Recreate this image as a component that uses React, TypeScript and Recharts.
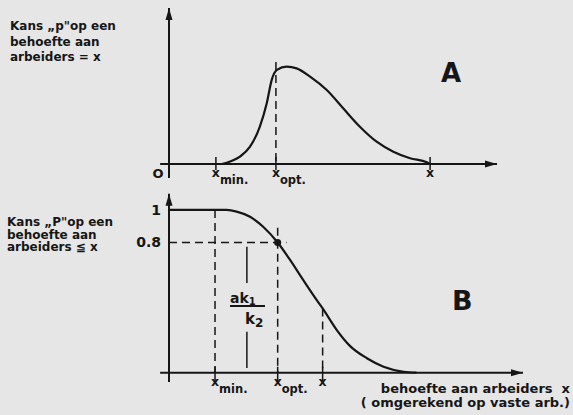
import { LineChart, Line, XAxis, YAxis, ReferenceLine, ReferenceDot } from 'recharts';

const INK = '#161616';
const FONT = '"DejaVu Sans", Arial, sans-serif';

// figuur A: kans p op een behoefte aan arbeiders = x
const xA = [16.1, 17.6, 21.6, 24.7, 27.7, 29.8, 31.3, 32.9, 35.9, 38.9, 43.0, 48.1, 53.1, 58.2, 63.3, 68.4, 73.5, 78.6, 79.6];
const pA = [0, 0.8, 4.7, 11.1, 23.9, 38.9, 53.8, 60.3, 62.4, 61.3, 56.0, 47.4, 35.7, 23.9, 14.3, 7.9, 3.7, 1.1, 0];
const ticksA = [0, 14.3, 32.6, 79.6];
const subsA = ['', 'min.', 'opt.', ''];
const optTopA = 65.4;

// figuur B: kans P op een behoefte aan arbeiders <= x
const xB = [0, 16.3, 19.1, 22.9, 26.6, 30.7, 34.2, 37.9, 41.7, 43.4, 47.4, 51.1, 55.9, 60.6, 66.3, 69.9];
const pB = [1, 1, 0.99, 0.958, 0.897, 0.8, 0.693, 0.57, 0.447, 0.395, 0.262, 0.165, 0.089, 0.037, 0.006, 0];
const ticksB = [13.0, 30.7, 43.4];
const subsB = ['min.', 'opt.', ''];
const levelsB = [0.8, 1];
const optTopB = 0.89;
const ak1k2X = 22.0;

const dataA = xA.map((x, i) => ({ x, p: pA[i] }));
const dataB = xB.map((x, i) => ({ x, p: pB[i] }));

const ArrowLine = (props: any) => {
  const { x1, y1, x2, y2 } = props;
  const a = Math.atan2(y2 - y1, x2 - x1);
  const len = 12;
  const w = 3.5;
  const bx = x2 - len * Math.cos(a);
  const by = y2 - len * Math.sin(a);
  const pts = `${x2},${y2} ${bx + w * Math.sin(a)},${by - w * Math.cos(a)} ${bx - w * Math.sin(a)},${by + w * Math.cos(a)}`;
  return (
    <g>
      <line x1={x1} y1={y1} x2={x2} y2={y2} stroke={INK} strokeWidth={2} />
      <polygon points={pts} fill={INK} />
    </g>
  );
};

const makeTick = (values: number[], subs: string[], up: number, down: number) => (props: any) => {
  const { x, y, payload } = props;
  const i = values.indexOf(payload.value);
  if (payload.value === 0) {
    return (
      <text x={x - 11} y={y + 14} textAnchor="middle" fontSize={13} fontWeight="bold" fill={INK} fontFamily={FONT}>
        O
      </text>
    );
  }
  const sub = subs[i];
  return (
    <g>
      <line x1={x} x2={x} y1={y - up} y2={y + down} stroke={INK} strokeWidth={1.5} />
      <text x={x} y={y + 13} textAnchor="middle" fontSize={12.5} fontWeight="bold" fill={INK} fontFamily={FONT}>
        x
      </text>
      {sub && (
        <text x={x + 4} y={y + 20} fontSize={11.5} fontWeight="bold" fill={INK} fontFamily={FONT}>
          {sub}
        </text>
      )}
    </g>
  );
};

const txt = { position: 'absolute' as const, fontFamily: FONT, fontWeight: 700, color: INK, whiteSpace: 'pre' as const };

export default function App() {
  return (
    <div style={{ position: 'absolute', left: 0, top: 0, width: 573, height: 415, background: '#e6e6e6', overflow: 'hidden' }}>
      <div style={{ position: 'absolute', left: 0, top: 0 }}>
        <LineChart width={573} height={200} data={dataA} margin={{ top: 8, right: 76, left: 169, bottom: 6 }}>
          <XAxis
            dataKey="x"
            type="number"
            domain={[0, 100]}
            ticks={ticksA}
            interval={0}
            axisLine={false}
            tickLine={false}
            tickSize={0}
            tickMargin={0}
            height={30}
            tick={makeTick(ticksA, subsA, 7, 6)}
          />
          <YAxis hide type="number" domain={[0, 100]} />
          <ReferenceLine segment={[{ x: 0, y: -9 }, { x: 0, y: 100 }]} ifOverflow="visible" shape={ArrowLine} />
          <ReferenceLine segment={[{ x: -2.7, y: 0 }, { x: 100, y: 0 }]} ifOverflow="visible" shape={ArrowLine} />
          <ReferenceLine
            segment={[{ x: ticksA[2], y: optTopA }, { x: ticksA[2], y: 0 }]}
            ifOverflow="visible"
            stroke={INK}
            strokeWidth={1.5}
            strokeDasharray="8 5"
          />
          <Line type="monotone" dataKey="p" stroke={INK} strokeWidth={2.2} dot={false} isAnimationActive={false} />
        </LineChart>
      </div>

      <div style={{ position: 'absolute', left: 0, top: 185 }}>
        <LineChart width={573} height={230} data={dataB} margin={{ top: 8.7, right: 50, left: 129, bottom: 12.3 }}>
          <XAxis
            dataKey="x"
            type="number"
            domain={[0, 100]}
            ticks={ticksB}
            interval={0}
            axisLine={false}
            tickLine={false}
            tickSize={0}
            tickMargin={0}
            height={30}
            tick={makeTick(ticksB, subsB, 6, 9)}
          />
          <YAxis
            type="number"
            domain={[0, 1.1]}
            ticks={levelsB}
            interval={0}
            width={40}
            axisLine={false}
            tickLine={false}
            tickSize={0}
            tickMargin={8}
            tick={{ fill: INK, fontSize: 14, fontWeight: 'bold', fontFamily: FONT }}
          />
          <ReferenceLine segment={[{ x: 0, y: -0.057 }, { x: 0, y: 1.1 }]} ifOverflow="visible" shape={ArrowLine} />
          <ReferenceLine segment={[{ x: -2.5, y: 0 }, { x: 100, y: 0 }]} ifOverflow="visible" shape={ArrowLine} />
          <ReferenceLine segment={[{ x: 0, y: 0.8 }, { x: 33.2, y: 0.8 }]} ifOverflow="visible" stroke={INK} strokeWidth={1.5} strokeDasharray="8 5" />
          <ReferenceLine segment={[{ x: ticksB[0], y: 1 }, { x: ticksB[0], y: 0 }]} ifOverflow="visible" stroke={INK} strokeWidth={1.5} strokeDasharray="8 5" />
          <ReferenceLine segment={[{ x: ticksB[1], y: optTopB }, { x: ticksB[1], y: 0 }]} ifOverflow="visible" stroke={INK} strokeWidth={1.5} strokeDasharray="8 5" />
          <ReferenceLine segment={[{ x: ticksB[2], y: pB[9] }, { x: ticksB[2], y: 0 }]} ifOverflow="visible" stroke={INK} strokeWidth={1.5} strokeDasharray="8 5" />
          <ReferenceLine segment={[{ x: ak1k2X, y: 0.774 }, { x: ak1k2X, y: 0.551 }]} ifOverflow="visible" stroke={INK} strokeWidth={1.5} />
          <ReferenceLine segment={[{ x: ak1k2X, y: 0.252 }, { x: ak1k2X, y: 0.029 }]} ifOverflow="visible" stroke={INK} strokeWidth={1.5} />
          <Line type="monotone" dataKey="p" stroke={INK} strokeWidth={2.2} dot={false} isAnimationActive={false} />
          <ReferenceDot x={ticksB[1]} y={0.8} r={3.5} fill={INK} stroke="none" ifOverflow="visible" />
        </LineChart>
      </div>

      <div style={{ ...txt, left: 10, top: 19, fontSize: 12, lineHeight: '15.5px' }}>
        {'Kans „p"op een\nbehoefte aan\narbeiders = x'}
      </div>
      <div style={{ ...txt, left: 7, top: 216, fontSize: 12, lineHeight: '12.5px' }}>
        {'Kans „P"op een\nbehoefte aan\narbeiders ≦ x'}
      </div>
      <div style={{ ...txt, left: 441, top: 60, fontSize: 26, lineHeight: '26px' }}>A</div>
      <div style={{ ...txt, left: 452, top: 287, fontSize: 27, lineHeight: '27px' }}>B</div>
      <div style={{ ...txt, right: 3, top: 381.5, fontSize: 13, lineHeight: '14px', textAlign: 'right' }}>
        {'behoefte aan arbeiders  x\n( omgerekend op vaste arb.)'}
      </div>
      <div style={{ ...txt, left: 230, top: 291, fontSize: 14, lineHeight: '14px' }}>
        ak<span style={{ fontSize: 10, verticalAlign: '-2px' }}>1</span>
      </div>
      <div style={{ position: 'absolute', left: 230, top: 305, width: 35, height: 2, background: INK }} />
      <div style={{ ...txt, left: 245, top: 312, fontSize: 15, lineHeight: '15px' }}>
        k<span style={{ fontSize: 12, verticalAlign: '-3px' }}>2</span>
      </div>
    </div>
  );
}
